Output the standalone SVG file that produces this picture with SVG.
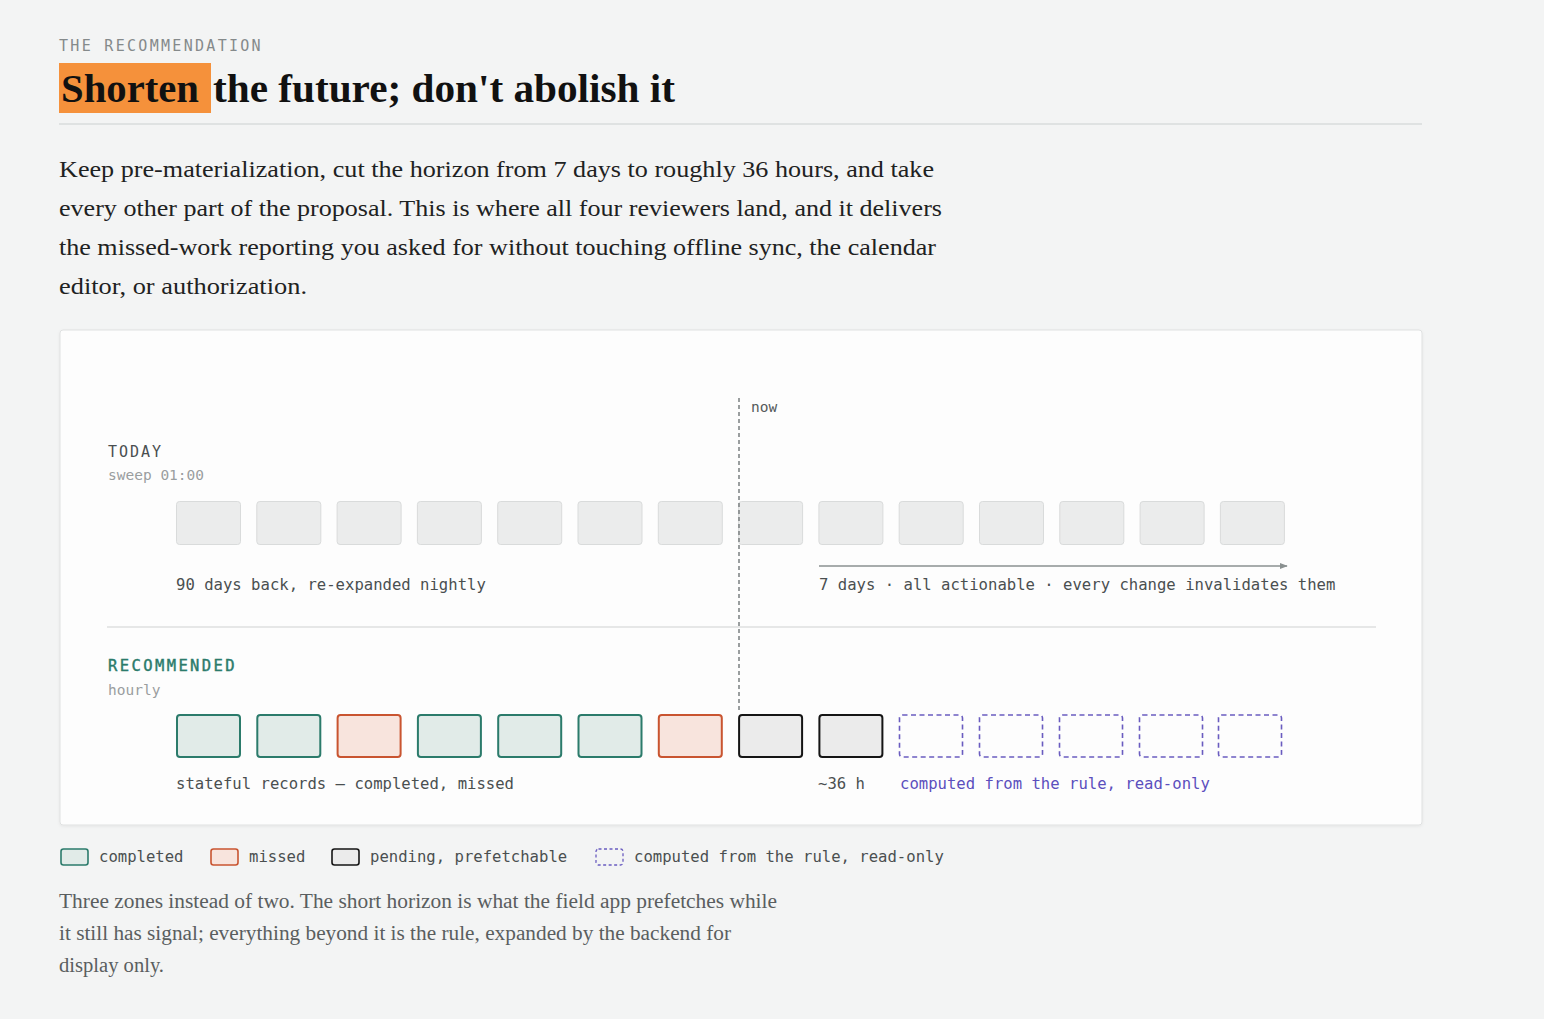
<svg xmlns="http://www.w3.org/2000/svg" width="1544" height="1019" viewBox="0 0 1544 1019">
<defs>
<style>
.mono{font-family:"DejaVu Sans Mono","Liberation Mono",monospace;}
.serif{font-family:"Liberation Serif","DejaVu Serif",serif;}
.lab{font-size:15.6px;fill:#4a4f50;}
.sub{font-size:14.5px;fill:#9a9e9f;}
.today{fill:#ebecec;stroke:#d9dbdb;stroke-width:1;}
.done{fill:#e1ebe8;stroke:#2b7b6b;stroke-width:2;}
.miss{fill:#f8e4dd;stroke:#c95430;stroke-width:2;}
.pend{fill:#ebebeb;stroke:#151515;stroke-width:2;}
.rule{fill:none;stroke:#6a5cc0;stroke-width:1.6;stroke-dasharray:5 3.5;}
.para{font-size:23px;fill:#1e2222;}
.cap{font-size:20px;fill:#5a5e5f;}
</style>
<marker id="ah" viewBox="0 0 10 10" refX="9" refY="5" markerWidth="8" markerHeight="8" orient="auto" markerUnits="userSpaceOnUse">
<path d="M0,1 L10,5 L0,9 z" fill="#8a9090"/>
</marker>
<filter id="sh" x="-2%" y="-2%" width="104%" height="106%">
<feDropShadow dx="0" dy="1" stdDeviation="1.5" flood-color="#000" flood-opacity="0.06"/>
</filter>
</defs>
<rect x="0" y="0" width="1544" height="1019" fill="#f3f4f4"/>

<g id="header">
<text x="59" y="51" class="mono" font-size="15" letter-spacing="2.3" fill="#858a8b">THE RECOMMENDATION</text>
<rect x="59" y="63" width="152" height="50" fill="#f5913b"/>
<text x="61" y="102" class="serif" font-size="40" font-weight="bold" fill="#111" textLength="138" lengthAdjust="spacingAndGlyphs">Shorten</text>
<text x="213" y="102" class="serif" font-size="40" font-weight="bold" fill="#111" textLength="462" lengthAdjust="spacingAndGlyphs">the future; don't abolish it</text>
<line x1="59" y1="124" x2="1422" y2="124" stroke="#d9dcdc" stroke-width="1.5"/>
</g>

<g id="intro" class="serif para">
<text x="59" y="177" textLength="875" lengthAdjust="spacingAndGlyphs">Keep pre-materialization, cut the horizon from 7 days to roughly 36 hours, and take</text>
<text x="59" y="216" textLength="883" lengthAdjust="spacingAndGlyphs">every other part of the proposal. This is where all four reviewers land, and it delivers</text>
<text x="59" y="255" textLength="877" lengthAdjust="spacingAndGlyphs">the missed-work reporting you asked for without touching offline sync, the calendar</text>
<text x="59" y="294" textLength="248" lengthAdjust="spacingAndGlyphs">editor, or authorization.</text>
</g>

<g id="card">
<rect x="60" y="330" width="1362" height="495" rx="3" fill="#fdfdfd" stroke="#dfe1e1" stroke-width="1" filter="url(#sh)"/>
<line x1="107" y1="627" x2="1376" y2="627" stroke="#dedfdf" stroke-width="1.5"/>
</g>

<g id="today-row">
<text x="108" y="457" class="mono" font-size="15" letter-spacing="2" fill="#4a4f50">TODAY</text>
<text x="108" y="480" class="mono sub">sweep 01:00</text>
<rect class="today" x="176.5" y="501.5" width="64" height="43" rx="3"/>
<rect class="today" x="256.8" y="501.5" width="64" height="43" rx="3"/>
<rect class="today" x="337.1" y="501.5" width="64" height="43" rx="3"/>
<rect class="today" x="417.4" y="501.5" width="64" height="43" rx="3"/>
<rect class="today" x="497.7" y="501.5" width="64" height="43" rx="3"/>
<rect class="today" x="578" y="501.5" width="64" height="43" rx="3"/>
<rect class="today" x="658.3" y="501.5" width="64" height="43" rx="3"/>
<rect class="today" x="738.6" y="501.5" width="64" height="43" rx="3"/>
<rect class="today" x="818.9" y="501.5" width="64" height="43" rx="3"/>
<rect class="today" x="899.2" y="501.5" width="64" height="43" rx="3"/>
<rect class="today" x="979.5" y="501.5" width="64" height="43" rx="3"/>
<rect class="today" x="1059.8" y="501.5" width="64" height="43" rx="3"/>
<rect class="today" x="1140.1" y="501.5" width="64" height="43" rx="3"/>
<rect class="today" x="1220.4" y="501.5" width="64" height="43" rx="3"/>
<text x="176" y="590" class="mono lab">90 days back, re-expanded nightly</text>
<text x="819" y="590" class="mono lab">7 days · all actionable · every change invalidates them</text>
</g>

<g id="recommended-row">
<text x="108" y="671" class="mono" font-size="15.5" letter-spacing="2.4" fill="#2b7b6b" stroke="#2b7b6b" stroke-width="0.4">RECOMMENDED</text>
<text x="108" y="695" class="mono sub">hourly</text>
<rect class="done" x="177" y="715" width="63" height="42" rx="3"/>
<rect class="done" x="257.3" y="715" width="63" height="42" rx="3"/>
<rect class="miss" x="337.6" y="715" width="63" height="42" rx="3"/>
<rect class="done" x="417.9" y="715" width="63" height="42" rx="3"/>
<rect class="done" x="498.2" y="715" width="63" height="42" rx="3"/>
<rect class="done" x="578.5" y="715" width="63" height="42" rx="3"/>
<rect class="miss" x="658.8" y="715" width="63" height="42" rx="3"/>
<rect class="pend" x="739.1" y="715" width="63" height="42" rx="3"/>
<rect class="pend" x="819.4" y="715" width="63" height="42" rx="3"/>
<rect class="rule" x="899.5" y="715" width="63" height="42" rx="3"/>
<rect class="rule" x="979.5" y="715" width="63" height="42" rx="3"/>
<rect class="rule" x="1059.5" y="715" width="63" height="42" rx="3"/>
<rect class="rule" x="1139.5" y="715" width="63" height="42" rx="3"/>
<rect class="rule" x="1218.5" y="715" width="63" height="42" rx="3"/>
<text x="176" y="789" class="mono lab">stateful records — completed, missed</text>
<text x="818" y="789" class="mono lab">~36 h</text>
<text x="900" y="789" class="mono lab" style="fill:#5b4fbd">computed from the rule, read-only</text>
</g>

<g id="connectors">
<line x1="739" y1="398" x2="739" y2="713" stroke="#7a7f80" stroke-width="1.5" stroke-dasharray="4 3"/>
<text x="751" y="412" class="mono" font-size="14.5" fill="#555a5b">now</text>
<line x1="819" y1="566" x2="1287" y2="566" stroke="#8a9090" stroke-width="1.5" marker-end="url(#ah)"/>
</g>

<g id="legend">
<rect class="done" x="61" y="849" width="27" height="16" rx="2.5" style="stroke-width:1.6"/>
<text x="99" y="862" class="mono lab">completed</text>
<rect class="miss" x="211" y="849" width="27" height="16" rx="2.5" style="stroke-width:1.6"/>
<text x="249" y="862" class="mono lab">missed</text>
<rect class="pend" x="332" y="849" width="27" height="16" rx="2.5" style="stroke-width:1.6"/>
<text x="370" y="862" class="mono lab">pending, prefetchable</text>
<rect class="rule" x="596" y="849" width="27" height="16" rx="2.5" style="stroke-width:1.3;stroke-dasharray:3 2.5"/>
<text x="634" y="862" class="mono lab">computed from the rule, read-only</text>
</g>

<g id="caption" class="serif cap">
<text x="59" y="908" textLength="718" lengthAdjust="spacingAndGlyphs">Three zones instead of two. The short horizon is what the field app prefetches while</text>
<text x="59" y="940" textLength="672" lengthAdjust="spacingAndGlyphs">it still has signal; everything beyond it is the rule, expanded by the backend for</text>
<text x="59" y="972" textLength="105" lengthAdjust="spacingAndGlyphs">display only.</text>
</g>
</svg>
